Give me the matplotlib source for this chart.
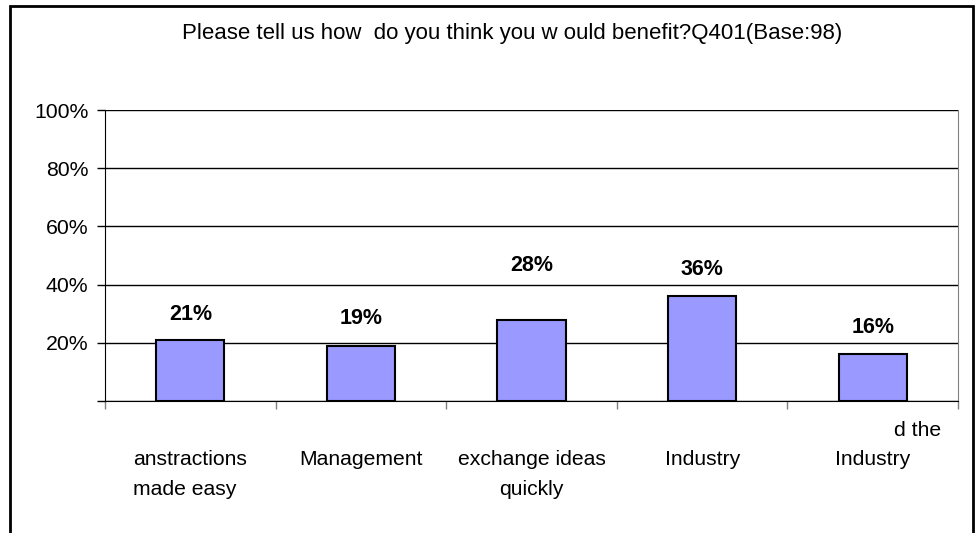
import matplotlib.pyplot as plt
from matplotlib.patches import Rectangle

# Survey answers, Q401 (base 98)
categories = ["anstractions\nmade easy", "Management", "exchange ideas\nquickly",
              "Industry", "Industry"]
shares = [21, 19, 28, 36, 16]
title = "Please tell us how  do you think you w ould benefit?Q401(Base:98)"
y_ticks = [0, 20, 40, 60, 80, 100]
y_tick_labels = ["", "20%", "40%", "60%", "80%", "100%"]

# extra lift for the value labels, in points, and line alignment of each category label
label_pad = [11, 12, 31, 12, 12]
label_align = ["left", "center", "center", "center", "center"]

plt.rcParams['font.family'] = ['Liberation Sans', 'DejaVu Sans']

fig = plt.figure(figsize=(9.78, 5.33), dpi=100)
ax = fig.add_axes([0.1074, 0.2477, 0.8722, 0.5459])

# outer chart frame (bottom edge runs off the page)
fig.patches.append(Rectangle((0.0105, -0.05), 0.9845, 1.039, transform=fig.transFigure,
                             fill=False, edgecolor="black", linewidth=2))

x = list(range(len(shares)))
bars = ax.bar(x, shares, width=0.4, color="#9999FF", edgecolor="black", linewidth=1.5, zorder=3)

for i, b in enumerate(bars):
    ax.annotate(f"{shares[i]}%", (b.get_x() + b.get_width() / 2, b.get_height()),
                xytext=(0, label_pad[i]), textcoords="offset points",
                ha="center", va="bottom", fontsize=15.5, fontweight="bold")

ax.set_xlim(-0.5, len(shares) - 0.5)
ax.set_ylim(0, 100)
ax.set_yticks(y_ticks)
ax.set_yticklabels(y_tick_labels, fontsize=15.3)
ax.yaxis.grid(True, color="black", linewidth=1)
ax.set_axisbelow(True)
ax.tick_params(axis="y", length=6, width=1, color="black", pad=6)

# category boundaries carry the x ticks
ax.set_xticks([i - 0.5 for i in range(len(shares) + 1)])
ax.set_xticklabels([])
ax.tick_params(axis="x", length=6, width=1, color="#808080")

for i, c in enumerate(categories):
    ax.text(i, -17, c, ha="center", va="top", fontsize=15.2, linespacing=1.7,
            multialignment=label_align[i])
ax.text(4.4, -7, "d the", ha="right", va="top", fontsize=15.2)

ax.spines["top"].set_visible(False)
ax.spines["right"].set_color("#808080")
ax.spines["left"].set_color("black")
ax.spines["bottom"].set_color("black")

fig.text(0.5235, 0.938, title, ha="center", va="center", fontsize=16)

fig.savefig("out.png", dpi=100)
